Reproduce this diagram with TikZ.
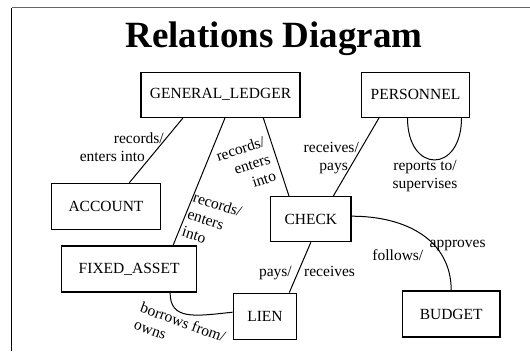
\documentclass[tikz,border=0pt]{standalone}
\usepackage{fontspec}
\setmainfont{Liberation Serif}
\begin{document}
\begin{tikzpicture}[x=1pt,y=-1pt,
  entity/.style={draw,line width=1.3pt,inner sep=0pt,minimum height=45pt,font=\fontsize{15.5}{18}\selectfont},
  lbl/.style={inner sep=0pt,font=\fontsize{15.5}{18}\selectfont},
  rel/.style={line width=1pt}]
\useasboundingbox (0,0) rectangle (530,351);
\draw[line width=1.3pt] (11.5,351) -- (11.5,7.5);
\draw[line width=1.5pt,black!60] (11.5,7.5) -- (530,7.5);
\node[anchor=base,font=\fontsize{37}{40}\selectfont\bfseries] (title) at (274,47) {Relations Diagram};

\node[entity,minimum width=159pt] (ledger) at (220.5,94.8) {GENERAL\_LEDGER};
\node[entity,minimum width=108pt] (personnel) at (415.5,94.8) {PERSONNEL};
\node[entity,minimum width=109pt,minimum height=46pt] (account) at (106,206.4) {ACCOUNT};
\node[entity,minimum width=135pt,minimum height=46pt] (asset) at (129.1,268.9) {FIXED\_ASSET};
\node[entity,minimum width=80.5pt] (check) at (310.8,219.2) {CHECK};
\node[entity,minimum width=63.5pt,minimum height=46pt] (lien) at (265,316.2) {LIEN};
\node[entity,minimum width=97.5pt,minimum height=46pt] (budget) at (451.2,314) {BUDGET};

\draw[rel] ([xshift=-37.5pt]ledger.south) -- ([xshift=23.3pt]account.north);
\draw[rel] ([xshift=4.5pt]ledger.south) -- ([xshift=44pt]asset.north);
\draw[rel] ([xshift=42.8pt]ledger.south) -- ([xshift=-21.8pt]check.north);
\draw[rel] ([xshift=-36.5pt]personnel.south) -- ([xshift=22.5pt]check.north);
\draw[rel] ([xshift=-8pt]personnel.south) .. controls +(0,56) and +(0,56) .. ([xshift=46pt]personnel.south);
\draw[rel] (check.south) -- ([xshift=24.3pt]lien.north);
\draw[rel] ([yshift=3pt]check.east) .. controls +(55,0) and +(0,-50) .. (budget.north);
\draw[rel] ([xshift=41pt]asset.south) .. controls +(0,28) and +(-38,4) .. ([yshift=4pt]lien.west);

\node[lbl,anchor=east,align=right] (recAccount) at (164,147.5) {records/\\enters into\hspace*{19pt}};
\node[lbl,rotate=-18,align=left] (recAsset) at (212,221.5) {records/\\enters\\into};
\node[lbl,rotate=18,align=right] (recCheck) at (246,166) {records/\\enters\\into};
\node[lbl,anchor=east,align=right] (recvPays) at (359,158) {receives/\\pays\hspace*{11pt}};
\node[lbl,align=center] (reports) at (425,176) {reports to/\\supervises};
\node[lbl,anchor=base east] (pays) at (292,276) {pays/};
\node[lbl,anchor=base west] (receives) at (304,276) {receives};
\node[lbl,anchor=base east] (follows) at (423.5,260) {follows/};
\node[lbl,anchor=base west] (approves) at (429.5,247) {approves};
\node[lbl,rotate=-20,align=left] (borrows) at (180,330.5) {borrows from/\\owns};
\end{tikzpicture}
\end{document}
